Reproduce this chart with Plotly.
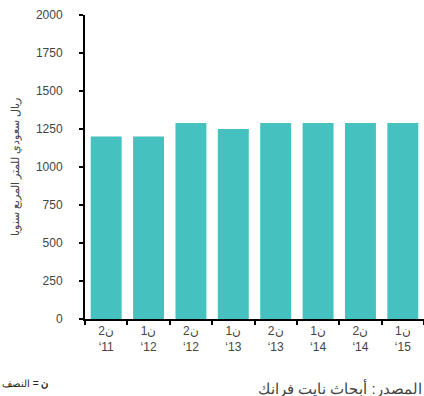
import plotly.graph_objects as go

categories = ["ن2<br>‘11", "ن1<br>‘12", "ن2<br>‘12", "ن1<br>‘13", "ن2<br>‘13", "ن1<br>‘14", "ن2<br>‘14", "ن1<br>‘15"]
values = [1200, 1200, 1290, 1250, 1290, 1290, 1290, 1290]
y_ticks = [0, 250, 500, 750, 1000, 1250, 1500, 1750, 2000]

fig = go.Figure(go.Bar(x=categories, y=values, marker_color="#45C1C0",
                       marker_line_width=0))

font = "Liberation Sans, Arial, sans-serif"
fig.update_layout(
    width=424, height=396,
    margin=dict(l=85, r=0, t=15, b=77),
    paper_bgcolor="white", plot_bgcolor="white",
    bargap=0.27,
    showlegend=False,
    font=dict(family=font, size=12, color="#444"),
)
fig.update_xaxes(
    showline=True, linecolor="black", linewidth=2,
    ticks="outside", tickson="boundaries", ticklen=4, tickwidth=2, tickcolor="black",
    tickfont=dict(size=12, color="#444"),
    showgrid=False,
)
fig.update_yaxes(
    range=[0, 2000], tickvals=y_ticks,
    showline=True, linecolor="black", linewidth=2,
    ticks="outside", ticklen=4, tickwidth=2, tickcolor="black",
    tickfont=dict(size=12, color="#444"),
    ticklabelstandoff=14,
    showgrid=False, zeroline=False,
    title=dict(text="ريال سعودي للمتر المربع سنويا", font=dict(size=11, color="#444"), standoff=14),
)
fig.add_annotation(xref="paper", yref="paper", x=-85/339, y=-57/304, xanchor="left", yanchor="top",
                   text="<b>ن</b> = النصف", showarrow=False, font=dict(size=10, color="#222"))
fig.add_annotation(xref="paper", yref="paper", x=1.0, y=-58/304, xanchor="right", yanchor="top",
                   text="المصدر: أبحاث نايت فرانك", showarrow=False, font=dict(size=15, color="#444"))
fig.write_html("out.html")
